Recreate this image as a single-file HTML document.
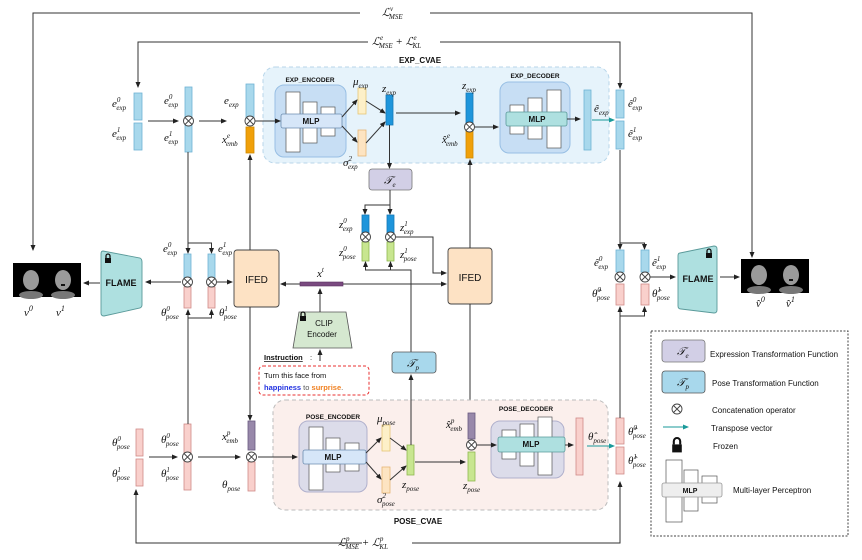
<!DOCTYPE html>
<html><head><meta charset="utf-8"><style>
html,body{margin:0;padding:0;background:#fff}
svg{display:block}
.m{font-family:"Liberation Serif",serif;font-style:italic;font-size:11px;fill:#111}
.s{font-family:"Liberation Sans",sans-serif;fill:#111}
.ln{stroke:#333;stroke-width:1;fill:none}
</style></head><body>
<svg width="862" height="560" viewBox="0 0 862 560" xmlns="http://www.w3.org/2000/svg">
<defs>
<marker id="a" markerWidth="6" markerHeight="6" refX="5" refY="3" orient="auto" markerUnits="userSpaceOnUse"><path d="M0,0.5 L6,3 L0,5.5z" fill="#222"/></marker>
<marker id="t" markerWidth="6" markerHeight="6" refX="5" refY="3" orient="auto" markerUnits="userSpaceOnUse"><path d="M0,0.5 L6,3 L0,5.5z" fill="#1a9a9a"/></marker>
<g id="cx"><circle r="5" fill="#fff" stroke="#444" stroke-width="0.9"/><path d="M-3.5,-3.5L3.5,3.5M3.5,-3.5L-3.5,3.5" stroke="#444" stroke-width="0.9"/></g>
<g id="lock"><rect x="-3" y="-1" width="6" height="5" fill="#111"/><path d="M-2,-1 V-3 A2,2 0 0 1 2,-3 V-1" stroke="#111" stroke-width="1.3" fill="none"/></g>
</defs>

<path class="ln" d="M360,13 H33 V250" marker-end="url(#a)"/>
<path class="ln" d="M430,13 H752 V257" marker-end="url(#a)"/>
<text class="m" x="382" y="16">ℒ<tspan font-size="7" dy="-5">v</tspan><tspan font-size="7" dx="-4" dy="8">MSE</tspan></text>
<path class="ln" d="M368,42 H138 V87" marker-end="url(#a)"/>
<path class="ln" d="M440,42 H620 V88" marker-end="url(#a)"/>
<text class="m" x="372" y="45">ℒ<tspan font-size="7" dy="-5">e</tspan><tspan font-size="7" dx="-4" dy="8">MSE</tspan><tspan dy="-3"> + ℒ</tspan><tspan font-size="7" dy="-5">e</tspan><tspan font-size="7" dx="-4" dy="8">KL</tspan></text>

<path class="ln" d="M362,543 H136 V490" marker-end="url(#a)"/>
<path class="ln" d="M412,543 H620 V482" marker-end="url(#a)"/>
<text class="m" x="338" y="546">ℒ<tspan font-size="7" dy="-5">p</tspan><tspan font-size="7" dx="-4" dy="8">MSE</tspan><tspan dy="-3"> + ℒ</tspan><tspan font-size="7" dy="-5">p</tspan><tspan font-size="7" dx="-4" dy="8">KL</tspan></text>

<rect x="263" y="67" width="346" height="96" rx="12" fill="#e6f3fb" stroke="#b8d6ea" stroke-dasharray="4,3"/>
<text class="s" x="420" y="63" font-size="8" font-weight="bold" text-anchor="middle">EXP_CVAE</text>
<rect x="275" y="85" width="71" height="72" rx="9" fill="#c7def4" stroke="#98bfe4"/>
<text class="s" x="310" y="82" font-size="6.5" font-weight="bold" text-anchor="middle">EXP_ENCODER</text>
<rect x="286" y="92" width="14" height="60" fill="#fff" stroke="#555" stroke-width="0.7"/>
<rect x="303" y="102" width="14" height="41" fill="#fff" stroke="#555" stroke-width="0.7"/>
<rect x="321" y="107" width="14" height="29" fill="#fff" stroke="#555" stroke-width="0.7"/>
<rect x="281" y="114" width="61" height="14" rx="2" fill="#d6e6f8" stroke="#6c8db0" stroke-width="0.8"/>
<text class="s" x="311" y="124" font-size="8" font-weight="bold" text-anchor="middle">MLP</text>
<rect x="500" y="82" width="70" height="71" rx="9" fill="#c7def4" stroke="#98bfe4"/>
<text class="s" x="535" y="78" font-size="6.5" font-weight="bold" text-anchor="middle">EXP_DECODER</text>
<rect x="510" y="105" width="14" height="29" fill="#fff" stroke="#555" stroke-width="0.7"/>
<rect x="528" y="98" width="14" height="41" fill="#fff" stroke="#555" stroke-width="0.7"/>
<rect x="547" y="90" width="14" height="58" fill="#fff" stroke="#555" stroke-width="0.7"/>
<rect x="506" y="112" width="61" height="14" rx="2" fill="#aee0e0" stroke="#5a9a9a" stroke-width="0.8"/>
<text class="s" x="537" y="122" font-size="8" font-weight="bold" text-anchor="middle">MLP</text>
<path class="ln" d="M567,119 H580" marker-end="url(#a)"/>

<rect x="134" y="93" width="8" height="27" fill="#a8d8ec" stroke="#6fb3d4" stroke-width="0.8"/>
<rect x="134" y="123" width="8" height="27" fill="#a8d8ec" stroke="#6fb3d4" stroke-width="0.8"/>
<text class="m" x="112" y="107">e<tspan font-size="7" dy="-5">0</tspan><tspan font-size="7" dx="-4" dy="8">exp</tspan></text>
<text class="m" x="112" y="137">e<tspan font-size="7" dy="-5">1</tspan><tspan font-size="7" dx="-4" dy="8">exp</tspan></text>
<path class="ln" d="M148,121 H178" marker-end="url(#a)"/>
<rect x="185" y="87" width="7" height="65" fill="#a8d8ec" stroke="#6fb3d4" stroke-width="0.8"/>
<use href="#cx" x="188.5" y="121"/>
<text class="m" x="164" y="104">e<tspan font-size="7" dy="-5">0</tspan><tspan font-size="7" dx="-4" dy="8">exp</tspan></text>
<text class="m" x="164" y="141">e<tspan font-size="7" dy="-5">1</tspan><tspan font-size="7" dx="-4" dy="8">exp</tspan></text>
<path class="ln" d="M199,121 H226" marker-end="url(#a)"/>
<rect x="246" y="84" width="8" height="38" fill="#a8d8ec" stroke="#6fb3d4" stroke-width="0.8"/>
<rect x="246" y="127" width="8" height="26" fill="#f0a00a" stroke="#d08a00" stroke-width="0.8"/>
<use href="#cx" x="250" y="121"/>
<text class="m" x="224" y="104">e<tspan font-size="7" dy="3">exp</tspan></text>
<text class="m" x="222" y="143">x<tspan font-size="7" dy="-5">e</tspan><tspan font-size="7" dx="-4" dy="8">emb</tspan></text>
<path class="ln" d="M255,121 H280" marker-end="url(#a)"/>

<rect x="358" y="88" width="8" height="26" fill="#fdf0c8" stroke="#e6c676" stroke-width="0.8"/>
<rect x="358" y="130" width="8" height="26" fill="#fde4c2" stroke="#e6b676" stroke-width="0.8"/>
<text class="m" x="353" y="85">μ<tspan font-size="7" dy="3">exp</tspan></text>
<text class="m" x="343" y="166">σ<tspan font-size="7" dy="-5">2</tspan><tspan font-size="7" dx="-4" dy="8">exp</tspan></text>
<path class="ln" d="M342,117 L357,100" marker-end="url(#a)"/>
<path class="ln" d="M342,126 L357,142" marker-end="url(#a)"/>
<path class="ln" d="M366,101 L385,113" marker-end="url(#a)"/>
<path class="ln" d="M366,143 L385,122" marker-end="url(#a)"/>
<rect x="386" y="95" width="7" height="30" fill="#1e95db" stroke="#1478b8" stroke-width="0.8"/>
<text class="m" x="382" y="92">z<tspan font-size="7" dy="3">exp</tspan></text>
<path class="ln" d="M396,113 H460" marker-end="url(#a)"/>
<rect x="466" y="93" width="7" height="34" fill="#1e95db" stroke="#1478b8" stroke-width="0.8"/>
<rect x="466" y="131" width="7" height="27" fill="#f0a00a" stroke="#d08a00" stroke-width="0.8"/>
<use href="#cx" x="469.5" y="127"/>
<text class="m" x="462" y="89">z<tspan font-size="7" dy="3">exp</tspan></text>
<text class="m" x="442" y="143">x̂<tspan font-size="7" dy="-5">e</tspan><tspan font-size="7" dx="-4" dy="8">emb</tspan></text>
<path class="ln" d="M475,127 H498" marker-end="url(#a)"/>
<rect x="584" y="90" width="7" height="60" fill="#a8d8ec" stroke="#6fb3d4" stroke-width="0.8"/>
<path d="M592,120 H614" stroke="#1a9a9a" stroke-width="1" marker-end="url(#t)"/>
<text class="m" x="594" y="112" font-size="10">ê<tspan font-size="7" dy="3">exp</tspan></text>
<rect x="616" y="90" width="8" height="28" fill="#a8d8ec" stroke="#6fb3d4" stroke-width="0.8"/>
<rect x="616" y="121" width="8" height="28" fill="#a8d8ec" stroke="#6fb3d4" stroke-width="0.8"/>
<text class="m" x="628" y="107">ê<tspan font-size="7" dy="-5">0</tspan><tspan font-size="7" dx="-4" dy="8">exp</tspan></text>
<text class="m" x="628" y="137">ê<tspan font-size="7" dy="-5">1</tspan><tspan font-size="7" dx="-4" dy="8">exp</tspan></text>

<path class="ln" d="M389.5,125 V168" marker-end="url(#a)"/>
<rect x="369" y="169" width="43" height="21" rx="3" fill="#d2cfe6" stroke="#777" stroke-width="0.8"/>
<text class="m" x="384" y="184" font-size="12">𝒯<tspan font-size="7" dy="3">e</tspan></text>
<path class="ln" d="M390,190 V205 H365 V214" marker-end="url(#a)"/>
<path class="ln" d="M390,205 V214" marker-end="url(#a)"/>
<rect x="362" y="215" width="7" height="18" fill="#1e95db" stroke="#1478b8" stroke-width="0.8"/>
<rect x="362" y="242" width="7" height="19" fill="#c8e690" stroke="#8fb850" stroke-width="0.8"/>
<use href="#cx" x="365.5" y="237"/>
<rect x="387" y="215" width="7" height="18" fill="#1e95db" stroke="#1478b8" stroke-width="0.8"/>
<rect x="387" y="242" width="7" height="19" fill="#c8e690" stroke="#8fb850" stroke-width="0.8"/>
<use href="#cx" x="390.5" y="237"/>
<text class="m" x="339" y="228">z<tspan font-size="7" dy="-5">0</tspan><tspan font-size="7" dx="-4" dy="8">exp</tspan></text>
<text class="m" x="339" y="256">z<tspan font-size="7" dy="-5">0</tspan><tspan font-size="7" dx="-4" dy="8">pose</tspan></text>
<text class="m" x="400" y="231">z<tspan font-size="7" dy="-5">1</tspan><tspan font-size="7" dx="-4" dy="8">exp</tspan></text>
<text class="m" x="400" y="258">z<tspan font-size="7" dy="-5">1</tspan><tspan font-size="7" dx="-4" dy="8">pose</tspan></text>
<path class="ln" d="M396,237 H433 V273 H446" marker-end="url(#a)"/>
<path class="ln" d="M411,352 V270 H365.5 V262" marker-end="url(#a)"/>
<path class="ln" d="M390.5,270 V262" marker-end="url(#a)"/>

<rect x="234" y="250" width="45" height="57" rx="3" fill="#fde2c4" stroke="#444" stroke-width="0.9"/>
<text class="s" x="256.5" y="283" font-size="10" text-anchor="middle">IFED</text>
<rect x="448" y="248" width="44" height="56" rx="3" fill="#fde2c4" stroke="#444" stroke-width="0.9"/>
<text class="s" x="470" y="281" font-size="10" text-anchor="middle">IFED</text>
<path class="ln" d="M250,250 V155" marker-end="url(#a)"/>
<path class="ln" d="M470,248 V160" marker-end="url(#a)"/>
<path class="ln" d="M250,307 V420" marker-end="url(#a)"/>
<path class="ln" d="M470,304 V412" marker-end="url(#a)"/>
<rect x="300" y="282" width="43" height="4" fill="#7a4a80" stroke="#5a3060" stroke-width="0.6"/>
<text class="m" x="317" y="277">x<tspan font-size="7" dy="-5">t</tspan></text>
<path class="ln" d="M300,284 H281" marker-end="url(#a)"/>
<path class="ln" d="M343,284 H446" marker-end="url(#a)"/>
<path d="M299,312 H346 L352,348 H293 Z" fill="#d5e8d0" stroke="#555" stroke-width="0.8"/>
<use href="#lock" x="303" y="317"/>
<text class="s" x="324" y="326" font-size="8" text-anchor="middle">CLIP</text>
<text class="s" x="322" y="337" font-size="8" text-anchor="middle">Encoder</text>
<path class="ln" d="M320,312 V289" marker-end="url(#a)"/>
<path class="ln" d="M320,361 V350" marker-end="url(#a)"/>
<text class="s" x="264" y="360" font-size="7.5" font-weight="bold" text-decoration="underline">Instruction</text><text class="s" x="310" y="360" font-size="7.5">:</text>
<rect x="259" y="366" width="110" height="29" rx="4" fill="#fff" stroke="#e83030" stroke-dasharray="3,2"/>
<text class="s" x="264" y="378" font-size="7.5" fill="#555">Turn this face from</text>
<text class="s" x="264" y="390" font-size="7.5"><tspan fill="#2030e0" font-weight="bold">happiness</tspan><tspan fill="#555"> to </tspan><tspan fill="#f08020" font-weight="bold">surprise</tspan><tspan fill="#555">.</tspan></text>

<rect x="392" y="352" width="44" height="21" rx="3" fill="#a8d8ec" stroke="#555" stroke-width="0.8"/>
<text class="m" x="407" y="367" font-size="12">𝒯<tspan font-size="7" dy="3">p</tspan></text>

<rect x="273" y="400" width="335" height="110" rx="12" fill="#fbefec" stroke="#bbb" stroke-dasharray="4,3"/>
<text class="s" x="418" y="524" font-size="8" font-weight="bold" text-anchor="middle">POSE_CVAE</text>
<rect x="299" y="421" width="68" height="71" rx="9" fill="#dcdcea" stroke="#b0b0cc"/>
<text class="s" x="333" y="419" font-size="6.5" font-weight="bold" text-anchor="middle">POSE_ENCODER</text>
<rect x="309" y="427" width="14" height="63" fill="#fff" stroke="#555" stroke-width="0.7"/>
<rect x="326" y="438" width="14" height="34" fill="#fff" stroke="#555" stroke-width="0.7"/>
<rect x="345" y="443" width="14" height="28" fill="#fff" stroke="#555" stroke-width="0.7"/>
<rect x="303" y="450" width="63" height="14" rx="2" fill="#d6e6f8" stroke="#6c8db0" stroke-width="0.8"/>
<text class="s" x="333" y="460" font-size="8" font-weight="bold" text-anchor="middle">MLP</text>
<rect x="491" y="421" width="73" height="57" rx="9" fill="#dcdcea" stroke="#b0b0cc"/>
<text class="s" x="526" y="411" font-size="6.5" font-weight="bold" text-anchor="middle">POSE_DECODER</text>
<rect x="502" y="430" width="14" height="29" fill="#fff" stroke="#555" stroke-width="0.7"/>
<rect x="520" y="424" width="14" height="42" fill="#fff" stroke="#555" stroke-width="0.7"/>
<rect x="538" y="417" width="14" height="58" fill="#fff" stroke="#555" stroke-width="0.7"/>
<rect x="498" y="437" width="67" height="15" rx="2" fill="#aee0e0" stroke="#5a9a9a" stroke-width="0.8"/>
<text class="s" x="531" y="447" font-size="8" font-weight="bold" text-anchor="middle">MLP</text>
<path class="ln" d="M565,445 H573" marker-end="url(#a)"/>
<rect x="576" y="418" width="7" height="57" fill="#f9d0cc" stroke="#d08a88" stroke-width="0.8"/>
<path d="M587,446 H614" stroke="#1a9a9a" stroke-width="1" marker-end="url(#t)"/>
<text class="m" x="588" y="440" font-size="10">θ̂<tspan font-size="7" dy="3">pose</tspan></text>

<rect x="382" y="425" width="8" height="26" fill="#fdf0c8" stroke="#e6c676" stroke-width="0.8"/>
<rect x="382" y="467" width="8" height="26" fill="#fde4c2" stroke="#e6b676" stroke-width="0.8"/>
<text class="m" x="377" y="422">μ<tspan font-size="7" dy="3">pose</tspan></text>
<text class="m" x="377" y="503">σ<tspan font-size="7" dy="-5">2</tspan><tspan font-size="7" dx="-4" dy="8">pose</tspan></text>
<path class="ln" d="M366,453 L381,438" marker-end="url(#a)"/>
<path class="ln" d="M366,462 L381,479" marker-end="url(#a)"/>
<path class="ln" d="M390,438 L406,450" marker-end="url(#a)"/>
<path class="ln" d="M390,480 L406,466" marker-end="url(#a)"/>
<rect x="407" y="445" width="7" height="30" fill="#c8e690" stroke="#8fb850" stroke-width="0.8"/>
<text class="m" x="402" y="488">z<tspan font-size="7" dy="3">pose</tspan></text>
<path class="ln" d="M411,445 V375" marker-end="url(#a)"/>
<path class="ln" d="M415,462 H465" marker-end="url(#a)"/>
<rect x="468" y="413" width="7" height="26" fill="#9888aa" stroke="#6a5a80" stroke-width="0.8"/>
<rect x="468" y="452" width="7" height="29" fill="#c8e690" stroke="#8fb850" stroke-width="0.8"/>
<use href="#cx" x="471.5" y="445"/>
<text class="m" x="446" y="428">x̂<tspan font-size="7" dy="-5">p</tspan><tspan font-size="7" dx="-4" dy="8">emb</tspan></text>
<text class="m" x="463" y="489">z<tspan font-size="7" dy="3">pose</tspan></text>
<path class="ln" d="M477,445 H496" marker-end="url(#a)"/>

<rect x="136" y="429" width="7" height="27" fill="#f9d0cc" stroke="#d08a88" stroke-width="0.8"/>
<rect x="136" y="459" width="7" height="27" fill="#f9d0cc" stroke="#d08a88" stroke-width="0.8"/>
<text class="m" x="112" y="446">θ<tspan font-size="7" dy="-5">0</tspan><tspan font-size="7" dx="-4" dy="8">pose</tspan></text>
<text class="m" x="112" y="477">θ<tspan font-size="7" dy="-5">1</tspan><tspan font-size="7" dx="-4" dy="8">pose</tspan></text>
<path class="ln" d="M149,457 H177" marker-end="url(#a)"/>
<rect x="184" y="424" width="7" height="66" fill="#f9d0cc" stroke="#d08a88" stroke-width="0.8"/>
<use href="#cx" x="187.5" y="457"/>
<text class="m" x="161" y="443">θ<tspan font-size="7" dy="-5">0</tspan><tspan font-size="7" dx="-4" dy="8">pose</tspan></text>
<text class="m" x="161" y="477">θ<tspan font-size="7" dy="-5">1</tspan><tspan font-size="7" dx="-4" dy="8">pose</tspan></text>
<path class="ln" d="M198,457 H240" marker-end="url(#a)"/>
<rect x="248" y="421" width="7" height="29" fill="#9888aa" stroke="#6a5a80" stroke-width="0.8"/>
<rect x="248" y="462" width="7" height="29" fill="#f9d0cc" stroke="#d08a88" stroke-width="0.8"/>
<use href="#cx" x="251.5" y="457"/>
<text class="m" x="222" y="440">x<tspan font-size="7" dy="-5">p</tspan><tspan font-size="7" dx="-4" dy="8">emb</tspan></text>
<text class="m" x="222" y="488">θ<tspan font-size="7" dy="3">pose</tspan></text>
<path class="ln" d="M258,457 H297" marker-end="url(#a)"/>

<rect x="616" y="418" width="8" height="26" fill="#f9d0cc" stroke="#d08a88" stroke-width="0.8"/>
<rect x="616" y="447" width="8" height="27" fill="#f9d0cc" stroke="#d08a88" stroke-width="0.8"/>
<text class="m" x="628" y="435">θ̂<tspan font-size="7" dy="-5">0</tspan><tspan font-size="7" dx="-4" dy="8">pose</tspan></text>
<text class="m" x="628" y="464">θ̂<tspan font-size="7" dy="-5">1</tspan><tspan font-size="7" dx="-4" dy="8">pose</tspan></text>

<path class="ln" d="M188,152 V243 H188 V253" marker-end="url(#a)"/>
<path class="ln" d="M188,243 H211.5 V253" marker-end="url(#a)"/>
<rect x="184" y="254" width="7" height="24" fill="#a8d8ec" stroke="#6fb3d4" stroke-width="0.8"/>
<rect x="184" y="287" width="7" height="21" fill="#f9d0cc" stroke="#d08a88" stroke-width="0.8"/>
<use href="#cx" x="187.5" y="282"/>
<rect x="208" y="254" width="7" height="24" fill="#a8d8ec" stroke="#6fb3d4" stroke-width="0.8"/>
<rect x="208" y="287" width="7" height="21" fill="#f9d0cc" stroke="#d08a88" stroke-width="0.8"/>
<use href="#cx" x="211.5" y="282"/>
<path class="ln" d="M188,424 V310" marker-end="url(#a)"/>
<path class="ln" d="M188,318 H211.5 V310" marker-end="url(#a)"/>
<text class="m" x="163" y="252">e<tspan font-size="7" dy="-5">0</tspan><tspan font-size="7" dx="-4" dy="8">exp</tspan></text>
<text class="m" x="218" y="252">e<tspan font-size="7" dy="-5">1</tspan><tspan font-size="7" dx="-4" dy="8">exp</tspan></text>
<text class="m" x="161" y="316">θ<tspan font-size="7" dy="-5">0</tspan><tspan font-size="7" dx="-4" dy="8">pose</tspan></text>
<text class="m" x="219" y="316">θ<tspan font-size="7" dy="-5">1</tspan><tspan font-size="7" dx="-4" dy="8">pose</tspan></text>
<path class="ln" d="M217,282 H232" marker-end="url(#a)"/>
<path class="ln" d="M181,282 H146" marker-end="url(#a)"/>
<path d="M103,251 Q101,251 101,254 V313 Q101,316 104,316 L140,308 Q142,307 142,305 V262 Q142,259 140,258 Z" fill="#aee0e0" stroke="#5a9a9a" stroke-width="0.9"/>
<use href="#lock" x="108" y="259"/>
<text class="s" x="121" y="286" font-size="9" font-weight="bold" text-anchor="middle" fill="#222">FLAME</text>
<path class="ln" d="M100,283 H84" marker-end="url(#a)"/>
<rect x="13" y="263" width="68" height="34" fill="#000"/>
<ellipse cx="31" cy="280" rx="8" ry="10" fill="#9a9a9a"/><ellipse cx="31" cy="295" rx="12" ry="4" fill="#777"/>
<ellipse cx="63" cy="280" rx="8" ry="10" fill="#9a9a9a"/><ellipse cx="63" cy="295" rx="12" ry="4" fill="#777"/>
<rect x="61" y="284" width="4" height="2" fill="#111"/>
<text class="m" x="24" y="316" font-size="12">v<tspan font-size="8" dy="-5">0</tspan></text>
<text class="m" x="56" y="316" font-size="12">v<tspan font-size="8" dy="-5">1</tspan></text>

<path class="ln" d="M620,150 V243 V249" marker-end="url(#a)"/>
<path class="ln" d="M620,243 H644.5 V249" marker-end="url(#a)"/>
<rect x="616" y="250" width="8" height="22" fill="#a8d8ec" stroke="#6fb3d4" stroke-width="0.8"/>
<rect x="616" y="284" width="8" height="21" fill="#f9d0cc" stroke="#d08a88" stroke-width="0.8"/>
<use href="#cx" x="620" y="277"/>
<rect x="641" y="250" width="8" height="22" fill="#a8d8ec" stroke="#6fb3d4" stroke-width="0.8"/>
<rect x="641" y="284" width="8" height="21" fill="#f9d0cc" stroke="#d08a88" stroke-width="0.8"/>
<use href="#cx" x="645" y="277"/>
<path class="ln" d="M620,418 V307" marker-end="url(#a)"/>
<path class="ln" d="M620,316 H644.5 V307" marker-end="url(#a)"/>
<text class="m" x="594" y="266">ê<tspan font-size="7" dy="-5">0</tspan><tspan font-size="7" dx="-4" dy="8">exp</tspan></text>
<text class="m" x="652" y="266">ê<tspan font-size="7" dy="-5">1</tspan><tspan font-size="7" dx="-4" dy="8">exp</tspan></text>
<text class="m" x="592" y="297">θ̂<tspan font-size="7" dy="-5">0</tspan><tspan font-size="7" dx="-4" dy="8">pose</tspan></text>
<text class="m" x="652" y="297">θ̂<tspan font-size="7" dy="-5">1</tspan><tspan font-size="7" dx="-4" dy="8">pose</tspan></text>
<path class="ln" d="M650,277 H675" marker-end="url(#a)"/>
<path d="M680,253 Q678,253 678,256 V306 Q678,309 681,309 L714,313 Q717,313 717,310 V249 Q717,246 714,246 Z" fill="#aee0e0" stroke="#5a9a9a" stroke-width="0.9"/>
<use href="#lock" x="709" y="254"/>
<text class="s" x="698" y="282" font-size="9" font-weight="bold" text-anchor="middle" fill="#222">FLAME</text>
<path class="ln" d="M720,277 H739" marker-end="url(#a)"/>
<rect x="741" y="259" width="68" height="34" fill="#000"/>
<ellipse cx="759" cy="275" rx="8" ry="10" fill="#9a9a9a"/><ellipse cx="759" cy="290" rx="12" ry="4" fill="#777"/>
<ellipse cx="791" cy="275" rx="8" ry="10" fill="#9a9a9a"/><ellipse cx="791" cy="290" rx="12" ry="4" fill="#777"/>
<rect x="789" y="279" width="4" height="2" fill="#111"/>
<text class="m" x="756" y="307" font-size="12">v̂<tspan font-size="8" dy="-5">0</tspan></text>
<text class="m" x="786" y="307" font-size="12">v̂<tspan font-size="8" dy="-5">1</tspan></text>

<rect x="651" y="331" width="197" height="205" fill="#fff" stroke="#444" stroke-dasharray="2,1.5"/>
<rect x="662" y="340" width="43" height="22" rx="3" fill="#d2cfe6" stroke="#777" stroke-width="0.8"/>
<text class="m" x="677" y="355" font-size="12">𝒯<tspan font-size="7" dy="3">e</tspan></text>
<text class="s" x="710" y="357" font-size="8" fill="#444">Expression Transformation Function</text>
<rect x="662" y="371" width="43" height="22" rx="3" fill="#a8d8ec" stroke="#555" stroke-width="0.8"/>
<text class="m" x="677" y="386" font-size="12">𝒯<tspan font-size="7" dy="3">p</tspan></text>
<text class="s" x="712" y="386" font-size="8" fill="#444">Pose Transformation Function</text>
<use href="#cx" x="677" y="409"/>
<text class="s" x="712" y="413" font-size="8" fill="#444">Concatenation operator</text>
<path d="M663,427 H688" stroke="#1a9a9a" stroke-width="1" marker-end="url(#t)"/>
<text class="s" x="711" y="431" font-size="8" fill="#444">Transpose vector</text>
<g transform="translate(677,446) scale(1.6)"><use href="#lock"/></g>
<text class="s" x="713" y="449" font-size="8" fill="#444">Frozen</text>
<rect x="666" y="460" width="16" height="62" fill="#fff" stroke="#555" stroke-width="0.7"/>
<rect x="684" y="470" width="14" height="41" fill="#fff" stroke="#555" stroke-width="0.7"/>
<rect x="702" y="476" width="15" height="27" fill="#fff" stroke="#555" stroke-width="0.7"/>
<rect x="662" y="483" width="60" height="14" rx="2" fill="#eee" stroke="#999" stroke-width="0.8"/>
<text class="s" x="690" y="493" font-size="7" font-weight="bold" text-anchor="middle">MLP</text>
<text class="s" x="733" y="493" font-size="8" fill="#444">Multi-layer Perceptron</text>
</svg>
</body></html>
